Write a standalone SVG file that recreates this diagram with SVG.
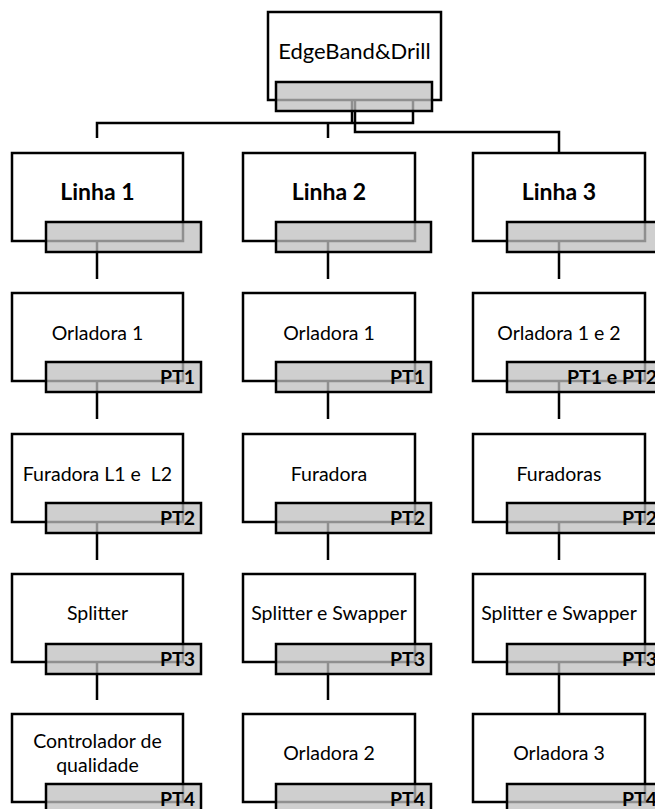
<svg xmlns="http://www.w3.org/2000/svg" width="655" height="809" viewBox="0 0 655 809">
  <style>
    .box { fill: #ffffff; stroke: #000000; stroke-width: 2.5; }
    .band { fill: #bfbfbf; fill-opacity: 0.75; stroke: #000000; stroke-width: 2.5; }
    .wire { fill: none; stroke: #000000; stroke-width: 2.5; }
    .lbl { font-family: Lato, "Liberation Sans", sans-serif; font-size: 19.5px; fill: #000000; text-anchor: middle; }
    .head { font-family: Lato, "Liberation Sans", sans-serif; font-size: 23px; font-weight: bold; fill: #000000; text-anchor: middle; }
    .root { font-family: Lato, "Liberation Sans", sans-serif; font-size: 22px; fill: #000000; text-anchor: middle; }
    .pt { font-family: Lato, "Liberation Sans", sans-serif; font-size: 19.5px; font-weight: bold; fill: #000000; text-anchor: end; }
  </style>

  <!-- connectors (drawn first so the translucent bands sit over them) -->
  <g id="connectors" class="wire">
    <path d="M97,138 V123 H413 V100"/>
    <path d="M328,123 V138"/>
    <path d="M352,100 V123"/>
    <path d="M355,100 V132 H559 V153"/>
    <path d="M97,241 V279"/>
    <path d="M328,241 V279"/>
    <path d="M559,241 V279"/>
    <path d="M97,381 V419"/>
    <path d="M328,381 V419"/>
    <path d="M559,381 V419"/>
    <path d="M97,522 V560"/>
    <path d="M328,522 V560"/>
    <path d="M559,522 V560"/>
    <path d="M97,662 V700"/>
    <path d="M328,662 V700"/>
    <path d="M559,662 V714"/>
  </g>

  <!-- root -->
  <g id="edgeband-drill">
    <rect class="box" x="268" y="12" width="173" height="88"/>
    <text class="root" x="354.5" y="59">EdgeBand&amp;Drill</text>
    <rect class="band" x="276" y="82" width="156" height="29"/>
  </g>

  <!-- row 1: lines -->
  <g id="linha-1">
    <rect class="box" x="12" y="153" width="171" height="88"/>
    <text class="head" x="97.5" y="200">Linha 1</text>
    <rect class="band" x="46" y="222" width="155" height="30"/>
  </g>
  <g id="linha-2">
    <rect class="box" x="243" y="153" width="172" height="88"/>
    <text class="head" x="329" y="200">Linha 2</text>
    <rect class="band" x="276" y="222" width="155" height="30"/>
  </g>
  <g id="linha-3">
    <rect class="box" x="473" y="153" width="172" height="88"/>
    <text class="head" x="559" y="200">Linha 3</text>
    <rect class="band" x="507" y="222" width="155" height="30"/>
  </g>

  <!-- row 2 -->
  <g id="l1-orladora-1">
    <rect class="box" x="12" y="293" width="171" height="88"/>
    <text class="lbl" x="97.5" y="340">Orladora 1</text>
    <rect class="band" x="46" y="362" width="155" height="30"/>
    <text class="pt" x="195" y="384">PT1</text>
  </g>
  <g id="l2-orladora-1">
    <rect class="box" x="243" y="293" width="172" height="88"/>
    <text class="lbl" x="329" y="340">Orladora 1</text>
    <rect class="band" x="276" y="362" width="155" height="30"/>
    <text class="pt" x="425" y="384">PT1</text>
  </g>
  <g id="l3-orladora-1-2">
    <rect class="box" x="473" y="293" width="172" height="88"/>
    <text class="lbl" x="559" y="340">Orladora 1 e 2</text>
    <rect class="band" x="507" y="362" width="155" height="30"/>
    <text class="pt" x="657" y="384">PT1 e PT2</text>
  </g>

  <!-- row 3 -->
  <g id="l1-furadora">
    <rect class="box" x="12" y="434" width="171" height="88"/>
    <text class="lbl" x="97.5" y="481" xml:space="preserve">Furadora L1 e  L2</text>
    <rect class="band" x="46" y="503" width="155" height="30"/>
    <text class="pt" x="195" y="525">PT2</text>
  </g>
  <g id="l2-furadora">
    <rect class="box" x="243" y="434" width="172" height="88"/>
    <text class="lbl" x="329" y="481">Furadora</text>
    <rect class="band" x="276" y="503" width="155" height="30"/>
    <text class="pt" x="425" y="525">PT2</text>
  </g>
  <g id="l3-furadoras">
    <rect class="box" x="473" y="434" width="172" height="88"/>
    <text class="lbl" x="559" y="481">Furadoras</text>
    <rect class="band" x="507" y="503" width="155" height="30"/>
    <text class="pt" x="657" y="525">PT2</text>
  </g>

  <!-- row 4 -->
  <g id="l1-splitter">
    <rect class="box" x="12" y="574" width="171" height="88"/>
    <text class="lbl" x="97.5" y="620">Splitter</text>
    <rect class="band" x="46" y="644" width="155" height="30"/>
    <text class="pt" x="195" y="666">PT3</text>
  </g>
  <g id="l2-splitter-swapper">
    <rect class="box" x="243" y="574" width="172" height="88"/>
    <text class="lbl" x="329" y="620">Splitter e Swapper</text>
    <rect class="band" x="276" y="644" width="155" height="30"/>
    <text class="pt" x="425" y="666">PT3</text>
  </g>
  <g id="l3-splitter-swapper">
    <rect class="box" x="473" y="574" width="172" height="88"/>
    <text class="lbl" x="559" y="620">Splitter e Swapper</text>
    <rect class="band" x="507" y="644" width="155" height="30"/>
    <text class="pt" x="657" y="666">PT3</text>
  </g>

  <!-- row 5 -->
  <g id="l1-controlador">
    <rect class="box" x="12" y="714" width="171" height="88"/>
    <text class="lbl" x="97.5" y="748">Controlador de</text>
    <text class="lbl" x="97.5" y="772">qualidade</text>
    <rect class="band" x="46" y="784" width="155" height="30"/>
    <text class="pt" x="195" y="806">PT4</text>
  </g>
  <g id="l2-orladora-2">
    <rect class="box" x="243" y="714" width="172" height="88"/>
    <text class="lbl" x="329" y="760">Orladora 2</text>
    <rect class="band" x="276" y="784" width="155" height="30"/>
    <text class="pt" x="425" y="806">PT4</text>
  </g>
  <g id="l3-orladora-3">
    <rect class="box" x="473" y="714" width="172" height="88"/>
    <text class="lbl" x="559" y="760">Orladora 3</text>
    <rect class="band" x="507" y="784" width="155" height="30"/>
    <text class="pt" x="657" y="806">PT4</text>
  </g>
</svg>
